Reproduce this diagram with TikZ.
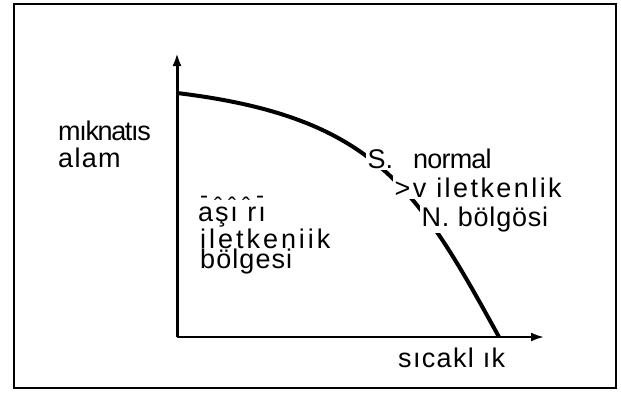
\documentclass[tikz,border=0pt]{standalone}
\usepackage{fontspec}
\setmainfont{Liberation Sans}
\usetikzlibrary{arrows.meta}

\newcommand\lsp[1]{\addfontfeature{LetterSpace=#1}}
\newcommand\lowhat{\hspace{6pt}\raisebox{-11pt}[0pt][0pt]{ˆ}}

\begin{document}
\begin{tikzpicture}[x=1pt, y=-1pt,
    lbl/.style={anchor=base west, inner sep=0pt, font=\fontsize{27}{32}\selectfont},
    gap/.style={lbl, fill=white, inner sep=1.5pt},
    axis/.style={line width=3pt, -{Latex[length=13pt, width=9pt]}},
    curve/.style={line width=4pt}]
  \useasboundingbox (0,0) rectangle (621,394);
  \draw[line width=2.5pt] (14,4) rectangle (616,388);

  % axes
  \coordinate (origin) at (177,337);
  \coordinate (ytop)   at (177,53);
  \coordinate (xend)   at (544,337);
  \coordinate (mstart) at (177,93);
  \coordinate (tc)     at (499,337);
  \draw[axis] (origin) -- (ytop);
  \draw[axis, line width=2.2pt] (origin) -- (xend);

  % critical field curve
  \draw[curve] (mstart) .. controls (375,117) and (417,188) .. (tc);

  % labels
  \node[lbl] (mag)   at (58,140) {\lsp{-5}mıknatıs};
  \node[lbl] (alan)  at (58,167) {\lsp{5}alam};
  \node[gap] (snode) at (366,168) {S.};
  \node[lbl] (norm)  at (413,168) {\lsp{-3}normal};
  \node[gap] (cond)  at (393,197) {\lsp{9}>v iletkenlik};
  \node[gap] (nreg)  at (420,226) {\lsp{3}N. bölgösi};
  \node[lbl, font=\fontsize{24}{26}\selectfont] (marks) at (200,203) {-\lowhat\lowhat\lowhat\hspace{6pt}-};
  \node[lbl] (asiri) at (198,221) {\lsp{7}aşı rı};
  \node[lbl] (ilet)  at (200,248) {\lsp{11}iletkeniik};
  \node[lbl] (bolge) at (200,268) {\lsp{4}bölgesi};
  \node[lbl] (temp)  at (398,367) {\lsp{5}sıcakl ık};
\end{tikzpicture}
\end{document}
